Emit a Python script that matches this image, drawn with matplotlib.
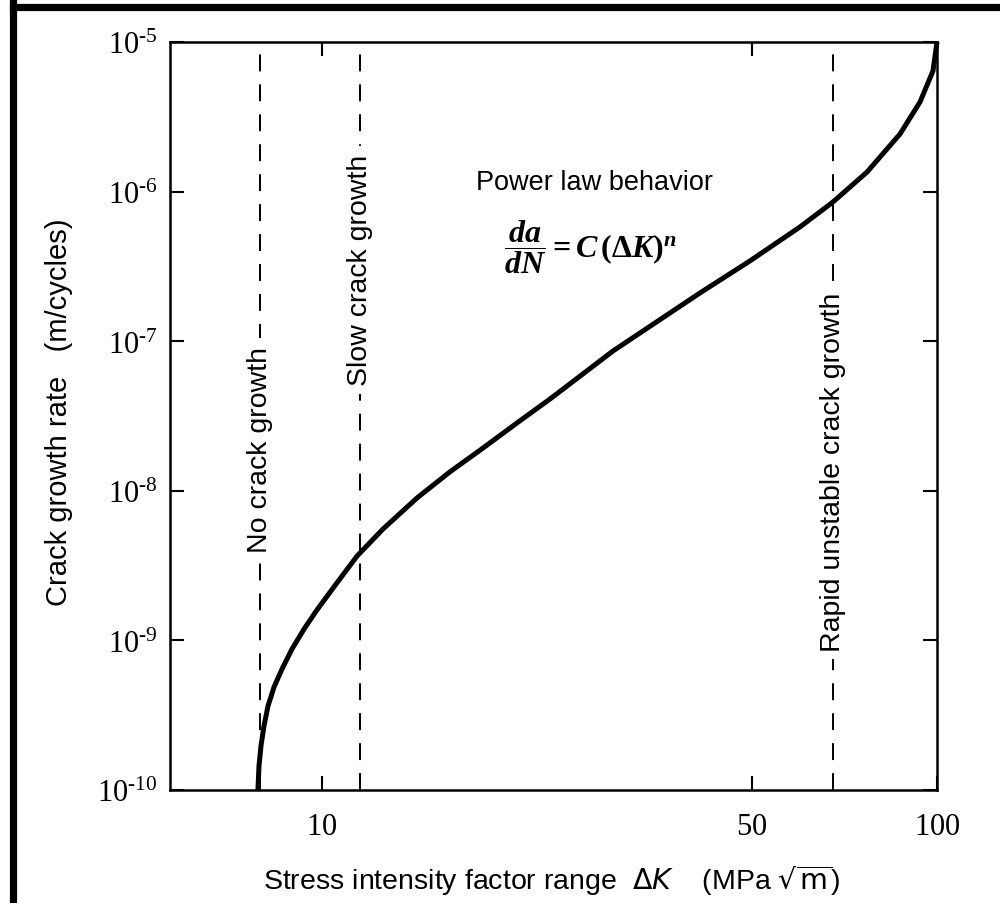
import numpy as np
import matplotlib
matplotlib.use('Agg')
import matplotlib.pyplot as plt
from matplotlib.lines import Line2D

# curve: stress intensity range (MPa sqrt m) vs da/dN (m/cycle)
delta_k = [7.867, 7.898, 7.957, 8.047, 8.169, 8.356, 8.610, 8.938, 9.348, 9.815,
           10.54, 11.40, 12.57, 14.27, 16.15, 18.27, 20.75, 23.49, 29.73, 41.17,
           49.65, 59.87, 67.75, 76.95, 87.1, 93.84, 98.5, 100.0]
growth_rate = [1.0e-10, 1.45e-10, 1.97e-10, 2.68e-10, 3.64e-10, 4.88e-10, 6.44e-10,
               8.76e-10, 1.19e-9, 1.60e-9, 2.38e-9, 3.66e-9, 5.56e-9, 8.95e-9,
               1.34e-8, 1.93e-8, 2.84e-8, 4.11e-8, 8.60e-8, 2.10e-7, 3.44e-7,
               5.80e-7, 8.52e-7, 1.35e-6, 2.43e-6, 3.97e-6, 6.40e-6, 1.0e-5]

# region boundaries and their labels
boundary_k = [7.93, 11.53, 67.8]
boundary_labels = ['No crack growth', 'Slow crack growth', 'Rapid unstable crack growth']
label_rate = [1.9e-8, 3.0e-7, 1.35e-8]

x_ticks = [10, 50, 100]
y_ticks = [1e-10, 1e-9, 1e-8, 1e-7, 1e-6, 1e-5]
y_tick_labels = [r'$\mathrm{10^{\text{-%d}}}$' % e for e in range(10, 4, -1)]

plt.rcParams['font.family'] = ['Liberation Sans', 'DejaVu Sans']
plt.rcParams['mathtext.fontset'] = 'custom'
plt.rcParams['mathtext.rm'] = 'Liberation Serif'
plt.rcParams['mathtext.it'] = 'Liberation Serif:italic:bold'
plt.rcParams['mathtext.bf'] = 'Liberation Serif:bold'

fig = plt.figure(figsize=(10, 9.04), dpi=100)
ax = fig.add_axes([0.170, 0.125, 0.767, 0.8275])

ax.set_xscale('log')
ax.set_yscale('log')
ax.set_xlim(5.66, 100)
ax.set_ylim(1e-10, 1e-5)

ax.plot(delta_k, growth_rate, color='black', lw=3.6, solid_capstyle='butt',
        solid_joinstyle='round', clip_on=False, zorder=4)

for k, txt, yr in zip(boundary_k, boundary_labels, label_rate):
    ax.axvline(k, color='black', lw=1.4, dashes=(8.7, 6.7), zorder=2)
    ax.text(k, yr, txt, rotation=90, ha='center', va='center', fontsize=20.5,
            bbox=dict(facecolor='white', edgecolor='none', pad=6), zorder=3)

ax.text(27.7, 1.16e-6, 'Power law behavior', ha='center', va='center', fontsize=19.5)
ax.text(27.3, 4.3e-7,
        r'$\dfrac{da}{dN} \mathbf{=} C\,\mathbf{(}\mathbf{\Delta} K\mathbf{)}^n$',
        ha='center', va='center', fontsize=23)

ax.set_xticks(x_ticks)
ax.set_xticklabels([r'$\mathrm{%d}$' % t for t in x_ticks])
ax.set_yticks(y_ticks)
ax.set_yticklabels(y_tick_labels)
ax.minorticks_off()
ax.tick_params(which='both', direction='in', length=10, width=1.5,
               top=True, right=True, labelsize=22)
ax.tick_params(axis='x', pad=15)
ax.tick_params(axis='y', pad=9)

for s in ax.spines.values():
    s.set_linewidth(1.8)

ax.set_xlabel(r'Stress intensity factor range  $\Delta K$    (MPa $\sqrt{\rm m}$)',
              fontsize=20.5, math_fontfamily='dejavusans')
ax.xaxis.set_label_coords(0.498, -0.097)
ax.xaxis.label.set_va('top')
ax.set_ylabel('Crack growth rate   (m/cycles)', fontsize=21)
ax.yaxis.set_label_coords(-0.126, 0.506)

# heavy frame on the top and left edges of the page
fig.add_artist(Line2D([0.0125, 1.0], [0.9917, 0.9917], color='black', lw=5.2,
                      transform=fig.transFigure))
fig.add_artist(Line2D([0.0125, 0.0125], [0.0, 0.9955], color='black', lw=5.2,
                      transform=fig.transFigure))

fig.savefig('out.png', dpi=100)
